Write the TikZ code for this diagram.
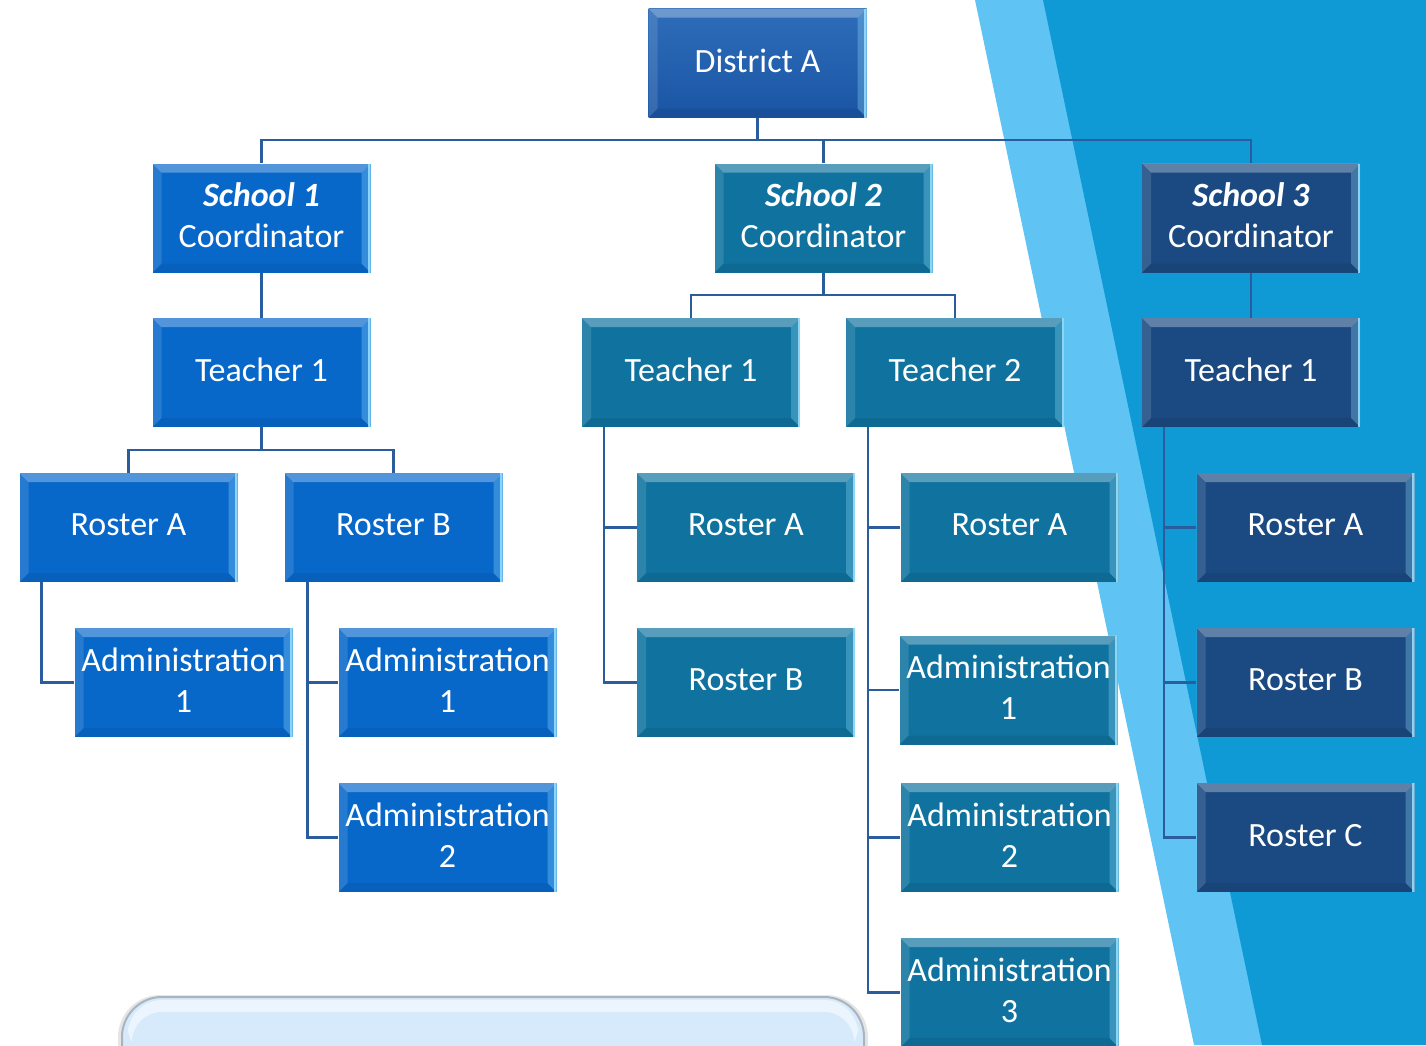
\documentclass[tikz,border=0pt]{standalone}
\usepackage{fontspec}
\setmainfont{Carlito}
\usetikzlibrary{calc}

\definecolor{bglight}{HTML}{5FC4F4}
\definecolor{bgdark}{HTML}{0F9AD6}
\definecolor{distTop}{HTML}{2E6DBA}
\definecolor{distBot}{HTML}{1A55A4}
\definecolor{schoolA}{HTML}{0868CA}
\definecolor{schoolB}{HTML}{10739F}
\definecolor{schoolC}{HTML}{1B4A82}
\definecolor{wire}{HTML}{2B5C9E}
\definecolor{noteFill}{HTML}{D6EAFB}
\definecolor{noteEdge}{HTML}{A9B4BF}
\definecolor{edgeGlow}{HTML}{9BE2FF}

\tikzset{
  bevel/.style={path picture={
    \path (path picture bounding box.north west) coordinate (bvnw)
          (path picture bounding box.north east) coordinate (bvne)
          (path picture bounding box.south east) coordinate (bvse)
          (path picture bounding box.south west) coordinate (bvsw);
    % top facet
    \fill[white,opacity=.30] (bvnw) -- (bvne) -- ([shift={(-9pt,-9pt)}]bvne) -- ([shift={(9pt,-9pt)}]bvnw) -- cycle;
    % left facet
    \fill[white,opacity=.12] (bvnw) -- ([shift={(9pt,-9pt)}]bvnw) -- ([shift={(9pt,9pt)}]bvsw) -- (bvsw) -- cycle;
    % bottom facet
    \fill[black,opacity=.07] (bvsw) -- ([shift={(9pt,9pt)}]bvsw) -- ([shift={(-9pt,9pt)}]bvse) -- (bvse) -- cycle;
    % right facet with glowing edge
    \fill[edgeGlow,opacity=.30] (bvne) -- ([shift={(-9pt,-9pt)}]bvne) -- ([shift={(-9pt,9pt)}]bvse) -- (bvse) -- cycle;
    \fill[edgeGlow,opacity=.85] ([xshift=-2.5pt]bvne) rectangle (bvse);
  }},
  box/.style={bevel, minimum width=218pt, minimum height=109pt, inner sep=0pt,
    text=white, align=center, text depth=5pt, font=\fontsize{34}{41}\selectfont},
  distbox/.style={box, top color=distTop, bottom color=distBot},
  boxA/.style={box, fill=schoolA},
  boxB/.style={box, fill=schoolB},
  boxC/.style={box, fill=schoolC},
  wire/.style={draw=wire, line width=2.6pt},
}

\begin{document}
\begin{tikzpicture}[x=1pt, y=-1pt]
\useasboundingbox (0,0) rectangle (1426,1045);

% slanted backdrop bands on the right
\fill[bglight] (975,0) -- (1426,0) -- (1426,1045) -- (1194,1045) -- cycle;
\fill[bgdark] (1043,0) -- (1426,0) -- (1426,1045) -- (1262,1045) -- cycle;

% rounded panel at the bottom edge
\begin{scope}
  \clip (0,0) rectangle (1426,1045);
  \fill[black,opacity=.10,rounded corners=42pt] (118,995) rectangle (868,1120);
  \draw[noteEdge, line width=2pt, fill=noteFill, rounded corners=40pt] (122,997) rectangle (864,1120);
  \fill[white,opacity=.55,rounded corners=34pt] (128,1000) rectangle (858,1060);
  \fill[noteFill,rounded corners=30pt] (132,1012) rectangle (854,1120);
\end{scope}

% connectors
\coordinate (dj) at (757.5,140);
\coordinate (t11j) at (261.5,450);
\coordinate (s2j) at (823.5,295);

% boxes
\node[distbox] (d) at (757.5,63) {District A};

\node[boxA] (s1) at (261.5,218) {\textbf{\textit{School 1}}\\Coordinator};
\node[boxB] (s2) at (823.5,218) {\textbf{\textit{School 2}}\\Coordinator};
\node[boxC] (s3) at (1251,218) {\textbf{\textit{School 3}}\\Coordinator};

\node[boxA] (t11) at (261.5,372.5) {Teacher 1};
\node[boxB] (t21) at (691,372.5) {Teacher 1};
\node[boxB] (t22) at (955,372.5) {Teacher 2};
\node[boxC] (t31) at (1251,372.5) {Teacher 1};

\node[boxA] (r1a) at (128.5,527.5) {Roster A};
\node[boxA] (r1b) at (393.5,527.5) {Roster B};
\node[boxA] (a1a1) at (183.5,682.5) {Administration\\1};
\node[boxA] (a1b1) at (447.5,682.5) {Administration\\1};
\node[boxA] (a1b2) at (447.5,837.5) {Administration\\2};

\node[boxB] (r21a) at (746,527.5) {Roster A};
\node[boxB] (r21b) at (746,682.5) {Roster B};

\node[boxB] (r22a) at (1009.5,527.5) {Roster A};
\node[boxB] (a221) at (1008.5,690) {Administration\\1};
\node[boxB] (a222) at (1009.5,837.5) {Administration\\2};
\node[boxB] (a223) at (1009.5,992.5) {Administration\\3};

\node[boxC] (r3a) at (1305.5,527.5) {Roster A};
\node[boxC] (r3b) at (1305.5,682.5) {Roster B};
\node[boxC] (r3c) at (1305.5,837.5) {Roster C};

\draw[wire] (d.south) -- (dj);
\draw[wire] (dj) -| (s1.north);
\draw[wire] (dj) -| (s2.north);
\draw[wire] (dj) -| (s3.north);

\draw[wire] (s1.south) -- (t11.north);
\draw[wire] (t11.south) -- (t11j);
\draw[wire] (t11j) -| (r1a.north);
\draw[wire] (t11j) -| (r1b.north);

\draw[wire] ([xshift=22pt]r1a.south west) |- (a1a1.west);
\draw[wire] ([xshift=23pt]r1b.south west) |- (a1b2.west);
\draw[wire] ([xshift=23pt]r1b.south west) |- (a1b1.west);

\draw[wire] (s2.south) -- (s2j);
\draw[wire] (s2j) -| (t21.north);
\draw[wire] (s2j) -| (t22.north);

\draw[wire] ([xshift=22pt]t21.south west) |- (r21b.west);
\draw[wire] ([xshift=22pt]t21.south west) |- (r21a.west);

\draw[wire] ([xshift=22pt]t22.south west) |- (a223.west);
\draw[wire] ([xshift=22pt]t22.south west) |- (a222.west);
\draw[wire] ([xshift=22pt]t22.south west) |- (a221.west);
\draw[wire] ([xshift=22pt]t22.south west) |- (r22a.west);

\draw[wire] (s3.south) -- (t31.north);
\draw[wire] ([xshift=22pt]t31.south west) |- (r3c.west);
\draw[wire] ([xshift=22pt]t31.south west) |- (r3b.west);
\draw[wire] ([xshift=22pt]t31.south west) |- (r3a.west);

\end{tikzpicture}
\end{document}
